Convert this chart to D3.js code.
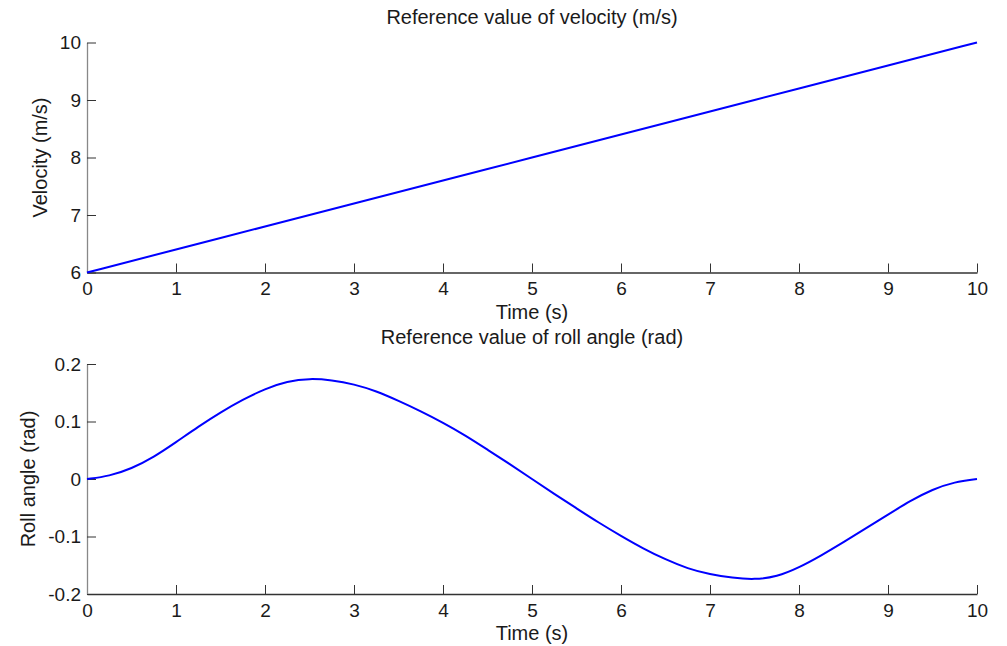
<!DOCTYPE html>
<html>
<head>
<meta charset="utf-8">
<script src="https://cdn.jsdelivr.net/npm/d3@7"></script>
<style>
  body { margin: 0; background: #fff; }
  text { font-family: "Liberation Sans", Arial, sans-serif; fill: #1a1a1a; }
</style>
</head>
<body>
<div id="chart"></div>
<script>
// data
const timeV = [0, 1, 2, 3, 4, 5, 6, 7, 8, 9, 10];
const velocity = [6, 6.4, 6.8, 7.2, 7.6, 8, 8.4, 8.8, 9.2, 9.6, 10];

const timeR = [0, 0.25, 0.5, 0.75, 1, 1.25, 1.5, 1.75, 2, 2.25, 2.5, 2.75, 3, 3.25, 3.5, 3.75, 4, 4.25, 4.5, 4.75,
  5, 5.25, 5.5, 5.75, 6, 6.25, 6.5, 6.75, 7, 7.25, 7.5, 7.75, 8, 8.25, 8.5, 8.75, 9, 9.25, 9.5, 9.75, 10];
const roll = [0, 0.005, 0.018, 0.038, 0.064, 0.091, 0.116, 0.138, 0.157, 0.170, 0.175, 0.172, 0.165, 0.153, 0.136, 0.118, 0.098, 0.076, 0.051, 0.026,
  0, -0.026, -0.051, -0.076, -0.099, -0.121, -0.140, -0.156, -0.166, -0.172, -0.175, -0.170, -0.154, -0.133, -0.110, -0.086, -0.062, -0.038, -0.018, -0.005, 0];

const xTicks = [0, 1, 2, 3, 4, 5, 6, 7, 8, 9, 10];
const velTicks = [6, 7, 8, 9, 10];
const rollTicks = [-0.2, -0.1, 0, 0.1, 0.2];

const width = 1007;
const height = 646;
const left = 87, right = 977;

const svg = d3.select("#chart")
    .append("svg")
    .attr("width", width)
    .attr("height", height);

const drawPanel = (cfg) => {
    const x = d3.scaleLinear().domain([0, 10]).range([left, right]);
    const y = d3.scaleLinear().domain(cfg.domain).range([cfg.bottom, cfg.top]);

    const g = svg.append("g");

    // x axis (ticks point inward)
    const xAxis = g.append("g")
        .attr("transform", `translate(0,${cfg.bottom})`)
        .call(d3.axisBottom(x).tickValues(xTicks).tickSizeInner(-9).tickSizeOuter(0).tickPadding(cfg.xPad));
    xAxis.select(".domain").attr("stroke", "#333").attr("stroke-width", 1.3);
    xAxis.selectAll(".tick line").attr("stroke", "#333");
    xAxis.selectAll("text").style("font-size", "19px").attr("fill", "#1a1a1a");

    // y axis
    const yAxis = g.append("g")
        .attr("transform", `translate(${left},0)`)
        .call(d3.axisLeft(y).tickValues(cfg.ticks).tickSizeInner(-9).tickSizeOuter(0).tickPadding(6));
    yAxis.select(".domain").attr("stroke", "#888").attr("stroke-width", 1.3);
    yAxis.selectAll(".tick line").attr("stroke", "#333");
    yAxis.selectAll("text").style("font-size", "19px").attr("fill", "#1a1a1a")
        .text(d => d < 0 ? "-" + Math.abs(d) : d);

    const line = d3.line()
        .x(d => x(d[0]))
        .y(d => y(d[1]))
        .curve(d3.curveBasis);

    g.append("path")
        .datum(cfg.t.map((t, i) => [t, cfg.v[i]]))
        .attr("d", line)
        .attr("fill", "none")
        .attr("stroke", "#0000ff")
        .attr("stroke-width", 2);

    g.append("text")
        .attr("x", (left + right) / 2)
        .attr("y", cfg.titleY)
        .attr("text-anchor", "middle")
        .style("font-size", "20px")
        .text(cfg.title);

    g.append("text")
        .attr("x", (left + right) / 2)
        .attr("y", cfg.bottom + 46)
        .attr("text-anchor", "middle")
        .style("font-size", "20px")
        .text("Time (s)");

    g.append("text")
        .attr("transform", `translate(${cfg.yLabelX},${(cfg.top + cfg.bottom) / 2}) rotate(-90)`)
        .attr("text-anchor", "middle")
        .style("font-size", "20px")
        .text(cfg.yLabel);
};

drawPanel({
    t: timeV, v: velocity, domain: [6, 10], ticks: velTicks,
    top: 42.5, bottom: 272.5, titleY: 24, xPad: 9,
    title: "Reference value of velocity (m/s)",
    yLabel: "Velocity (m/s)", yLabelX: 47
});

drawPanel({
    t: timeR, v: roll, domain: [-0.2, 0.2], ticks: rollTicks,
    top: 364, bottom: 594, titleY: 344, xPad: 10,
    title: "Reference value of roll angle (rad)",
    yLabel: "Roll angle (rad)", yLabelX: 35
});
</script>
</body>
</html>
